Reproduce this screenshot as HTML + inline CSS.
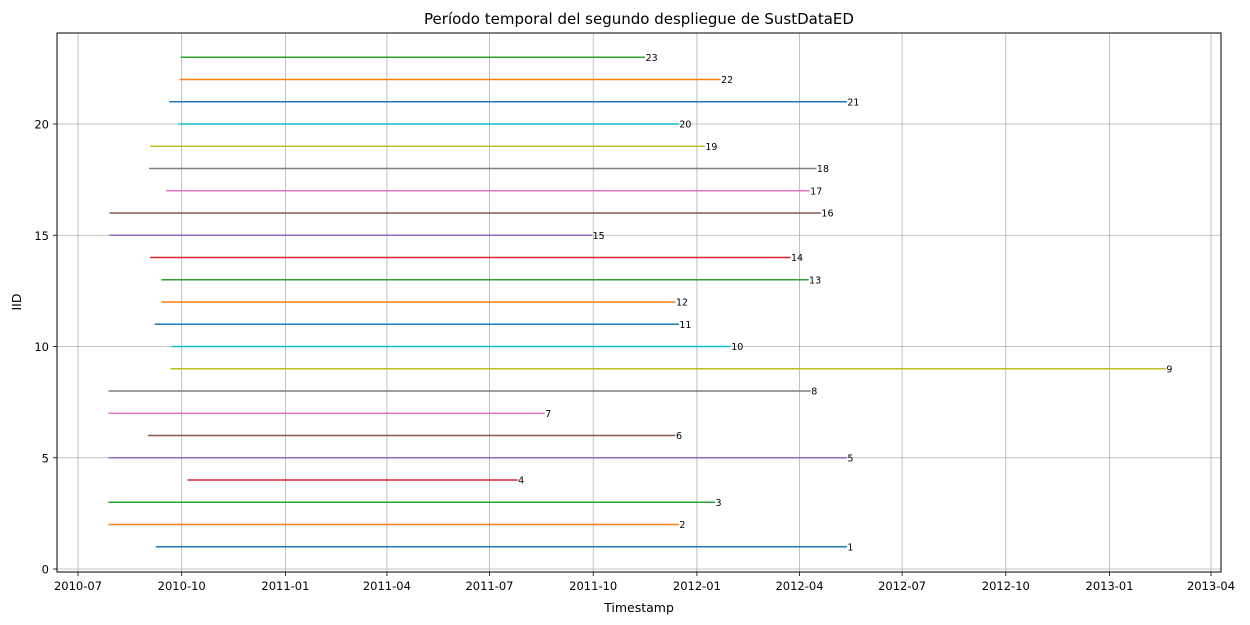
<!DOCTYPE html>
<html><head><meta charset="utf-8">
<style>
html,body{margin:0;padding:0;background:#fff;}
svg{display:block;font-family:"DejaVu Sans","Liberation Sans",sans-serif;}
</style></head>
<body>
<svg id="chart" width="1250" height="625" xmlns="http://www.w3.org/2000/svg">
<text x="639" y="24" text-anchor="middle" font-size="15" fill="#000">Período temporal del segundo despliegue de SustDataED</text>
<g id="grid"></g>
<g id="lines"></g>
<rect x="57" y="33" width="1164" height="539" fill="none" stroke="#000" stroke-width="1"/>
<g id="axes"></g>
<text x="639" y="612" text-anchor="middle" font-size="12.5">Timestamp</text>
<text x="21" y="302" text-anchor="middle" font-size="12.5" transform="rotate(-90 21 302)">IID</text>
</svg>
<script>
const ids = [1,2,3,4,5,6,7,8,9,10,11,12,13,14,15,16,17,18,19,20,21,22,23];
const starts = ["2010-09-08","2010-07-28","2010-07-28","2010-10-06","2010-07-28","2010-09-01","2010-07-28","2010-07-28","2010-09-21","2010-09-22","2010-09-07","2010-09-13","2010-09-13","2010-09-03","2010-07-29","2010-07-29","2010-09-17","2010-09-02","2010-09-03","2010-09-28","2010-09-20","2010-09-29","2010-09-30"];
const ends = ["2012-05-13","2011-12-16","2012-01-17","2011-07-26","2012-05-13","2011-12-13","2011-08-19","2012-04-11","2013-02-20","2012-01-31","2011-12-16","2011-12-13","2012-04-09","2012-03-24","2011-09-30","2012-04-20","2012-04-10","2012-04-16","2012-01-08","2011-12-16","2012-05-13","2012-01-22","2011-11-16"];
const xTicks = ["2010-07-01","2010-10-01","2011-01-01","2011-04-01","2011-07-01","2011-10-01","2012-01-01","2012-04-01","2012-07-01","2012-10-01","2013-01-01","2013-04-01"];
const yTicks = [0,5,10,15,20];
const colors = ["#1f77b4","#ff7f0e","#2ca02c","#d62728","#9467bd","#8c564b","#e377c2","#7f7f7f","#bcbd22","#17becf"];

const NS="http://www.w3.org/2000/svg";
const d0=Date.UTC(2010,6,1);
function days(s){const p=s.split("-");return (Date.UTC(+p[0],+p[1]-1,+p[2])-d0)/86400000;}
const pxPerDay=(1211-78)/1005;
function xScale(s){return 78+days(s)*pxPerDay;}
function yScale(v){return 569-v*22.25;}
function mk(tag,attrs,parent){const e=document.createElementNS(NS,tag);for(const k in attrs)e.setAttribute(k,attrs[k]);parent.appendChild(e);return e;}
const grid=document.getElementById("grid"),axes=document.getElementById("axes"),lines=document.getElementById("lines");

xTicks.forEach(t=>{
  const x=xScale(t);
  const g=mk("line",{x1:x,x2:x,y1:33,y2:572,stroke:"#b0b0b0","stroke-width":0.8},grid);
  
  
  mk("line",{x1:x,x2:x,y1:572,y2:576,stroke:"#000","stroke-width":0.8},axes);
  const tx=mk("text",{x:x,y:590,"text-anchor":"middle","font-size":"11.5"},axes);
  tx.textContent=t.slice(0,7);
  
  
});
yTicks.forEach(v=>{
  const y=yScale(v);
  const g=mk("line",{x1:57,x2:1221,y1:y,y2:y,stroke:"#b0b0b0","stroke-width":0.8},grid);
  
  
  mk("line",{x1:53,x2:57,y1:y,y2:y,stroke:"#000","stroke-width":0.8},axes);
  const tx=mk("text",{x:49,y:y+4.5,"text-anchor":"end","font-size":"11.5"},axes);
  tx.textContent=v;
  
  
});
ids.forEach((id,i)=>{
  const x1=xScale(starts[i]),x2=xScale(ends[i]),y=yScale(id);
  const c=colors[i%10];
  const l=mk("line",{x1:x1,x2:x2,y1:y,y2:y,stroke:c,"stroke-width":1.6},lines);
  
  
  const t=mk("text",{x:x2+0.5,y:y+3.5,"font-size":"9.5"},lines);
  t.textContent=id;
  
  
});
</script>
</body></html>
